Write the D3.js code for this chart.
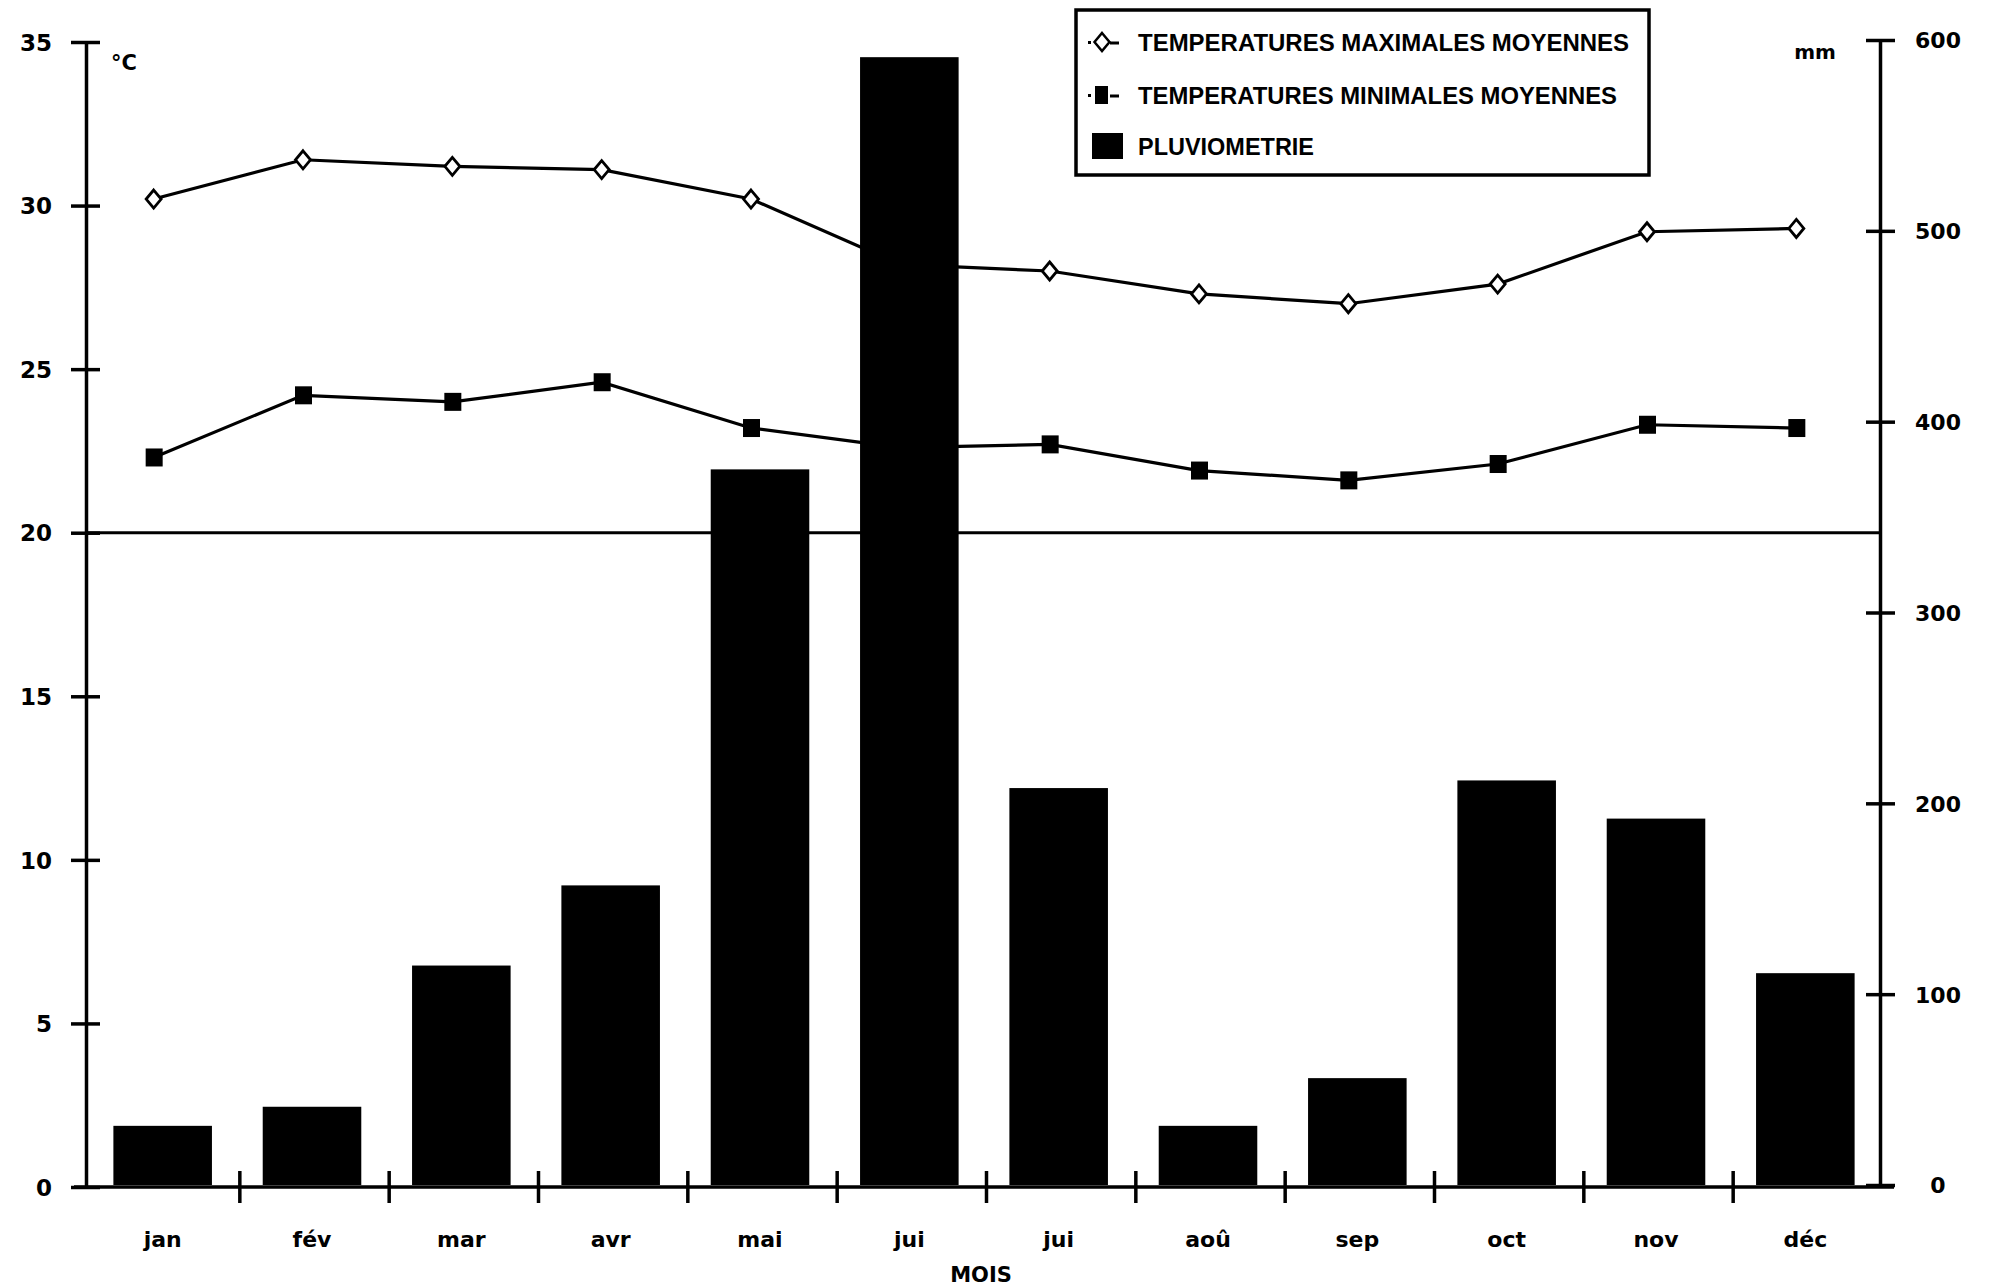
<!DOCTYPE html>
<html><head><meta charset="utf-8">
<script src="https://cdn.jsdelivr.net/npm/d3@7"></script>
<style>
body{margin:0;background:#fff}
svg{display:block}
text{font-family:"DejaVu Sans","Liberation Sans",sans-serif;font-weight:bold;fill:#000}
.leg{font-family:"Liberation Sans Narrow","Liberation Sans",sans-serif;font-weight:bold}
</style></head><body>
<svg id="c" width="1992" height="1287"></svg>
<script>
// ---- data ----
const months = ["jan","fév","mar","avr","mai","jui","jui","aoû","sep","oct","nov","déc"];
const tMax = [30.2, 31.4, 31.2, 31.1, 30.2, 28.2, 28.0, 27.3, 27.0, 27.6, 29.2, 29.3];
const tMin = [22.3, 24.2, 24.0, 24.6, 23.2, 22.6, 22.7, 21.9, 21.6, 22.1, 23.3, 23.2];
const rain = [31, 41, 115, 157, 375, 591, 208, 31, 56, 212, 192, 111];
const tempTicks = [0,5,10,15,20,25,30,35];
const rainTicks = [0,100,200,300,400,500,600];
const legendLabels = ["TEMPERATURES MAXIMALES MOYENNES","TEMPERATURES MINIMALES MOYENNES","PLUVIOMETRIE"];

// ---- layout ----
const svg = d3.select("#c");
const xL = 86, xR = 1880, x0 = 90, x1 = 1882;
const idx = d3.range(months.length);
const xBand = d3.scaleBand().domain(idx).range([x0, x1]).paddingInner(0.34).paddingOuter(0.17);
const xLin = d3.scaleLinear().domain([0, 12]).range([x0, x1]);
const yT = d3.scaleLinear().domain([0, 35]).range([1187, 42]);
const yP = d3.scaleLinear().domain([0, 600]).range([1185, 40]);
const cx = i => xBand(i) + xBand.bandwidth()/2 - 11;

// reference line at 20 °C
svg.append("line").attr("x1", xL).attr("x2", xR)
  .attr("y1", yT(20)).attr("y2", yT(20))
  .attr("stroke", "#000").attr("stroke-width", 3);

// temperature lines
const line = d3.line().x((d,i) => cx(i));
svg.append("path").datum(tMax).attr("fill","none").attr("stroke","#000").attr("stroke-width",3.2)
  .attr("d", line.y(d => yT(d)));
svg.append("path").datum(tMin).attr("fill","none").attr("stroke","#000").attr("stroke-width",3.2)
  .attr("d", line.y(d => yT(d)));

// markers
const diamond = (x, y) => `M${x},${y-9}L${x+7.5},${y}L${x},${y+9}L${x-7.5},${y}Z`;
svg.append("g").selectAll("path").data(tMax).join("path")
  .attr("d", (d,i) => diamond(cx(i), yT(d)))
  .attr("fill","#fff").attr("stroke","#000").attr("stroke-width",2.8);
svg.append("g").selectAll("rect").data(tMin).join("rect")
  .attr("x", (d,i) => cx(i) - 8).attr("y", d => yT(d) - 9)
  .attr("width", 17).attr("height", 18).attr("fill","#000");

// bars (drawn over lines)
svg.append("g").selectAll("rect").data(rain).join("rect")
  .attr("x", (d,i) => xBand(i) - 2).attr("width", xBand.bandwidth())
  .attr("y", d => yP(d)).attr("height", d => yP(0) - yP(d))
  .attr("fill", "#000");

// left axis
const gl = svg.append("g").attr("transform", `translate(${xL},0)`)
  .call(d3.axisLeft(yT).tickValues(tempTicks).tickSizeInner(15).tickSizeOuter(0));
gl.select(".domain").attr("stroke-width", 3.5);
gl.selectAll(".tick line").attr("x1", 14).attr("stroke-width", 3.5);
gl.selectAll(".tick text").attr("x", -34).attr("font-size", 23).attr("dy","0.36em");

// right axis
const gr = svg.append("g").attr("transform", `translate(${xR},0)`)
  .call(d3.axisRight(yP).tickValues(rainTicks).tickSizeInner(15).tickSizeOuter(0));
gr.select(".domain").attr("stroke-width", 3.5);
gr.selectAll(".tick line").attr("x1", -14).attr("stroke-width", 3.5);
gr.selectAll(".tick text").attr("x", 58).attr("text-anchor","middle").attr("font-size", 22).attr("dy","0.36em");

// bottom axis: baseline + boundary ticks
svg.append("line").attr("x1", xL - 12).attr("x2", xR + 14)
  .attr("y1", yT(0)).attr("y2", yT(0)).attr("stroke","#000").attr("stroke-width",3.5);
const gb = svg.append("g").attr("transform", `translate(0,${yT(0)})`)
  .call(d3.axisBottom(xLin).tickValues(d3.range(1, 12)).tickFormat("").tickSizeInner(16).tickSizeOuter(0));
gb.select(".domain").remove();
gb.selectAll(".tick line").attr("y1", -16).attr("stroke-width", 3.5);

// month labels
const gm = svg.append("g").attr("transform", `translate(0,${yT(0)})`)
  .call(d3.axisBottom(xBand).tickSize(0).tickFormat(i => months[i]));
gm.select(".domain").remove();
gm.selectAll(".tick text").attr("x", -2).attr("y", 52).attr("dy", "0.36em").attr("font-size", 22);

// axis titles
svg.append("text").attr("x", 981).attr("y", 1282).attr("text-anchor","middle").attr("font-size", 21).text("MOIS");
svg.append("text").attr("x", 111).attr("y", 70).attr("font-size", 21).text("°C");
svg.append("text").attr("x", 1815).attr("y", 59).attr("text-anchor","middle").attr("font-size", 20).text("mm");

// legend
const lg = svg.append("g");
lg.append("rect").attr("x", 1076).attr("y", 10).attr("width", 573).attr("height", 165)
  .attr("fill","#fff").attr("stroke","#000").attr("stroke-width",3.5);
const rowY = [42, 95, 146];
const widths = [491, 479, 176];
lg.selectAll("text.leg").data(legendLabels).join("text").attr("class","leg")
  .attr("x", 1138).attr("y", (d,i) => rowY[i] + 9).attr("font-size", 24)
  .attr("textLength", (d,i) => widths[i]).attr("lengthAdjust","spacingAndGlyphs")
  .text(d => d);
[0,1].forEach(r => {
  const y = rowY[r];
  lg.append("rect").attr("x",1088).attr("y",y-1).attr("width",3).attr("height",3).attr("fill","#000");
  lg.append("line").attr("x1",1110).attr("x2",1119).attr("y1",y+1).attr("y2",y+1).attr("stroke","#000").attr("stroke-width",3);
});
lg.append("path").attr("d", diamond(1102, rowY[0])).attr("fill","#fff").attr("stroke","#000").attr("stroke-width",2.5);
lg.append("rect").attr("x",1095).attr("y",rowY[1]-9).attr("width",13).attr("height",18).attr("fill","#000");
lg.append("rect").attr("x",1092).attr("y",133).attr("width",31).attr("height",26).attr("fill","#000");
</script>
</body></html>
